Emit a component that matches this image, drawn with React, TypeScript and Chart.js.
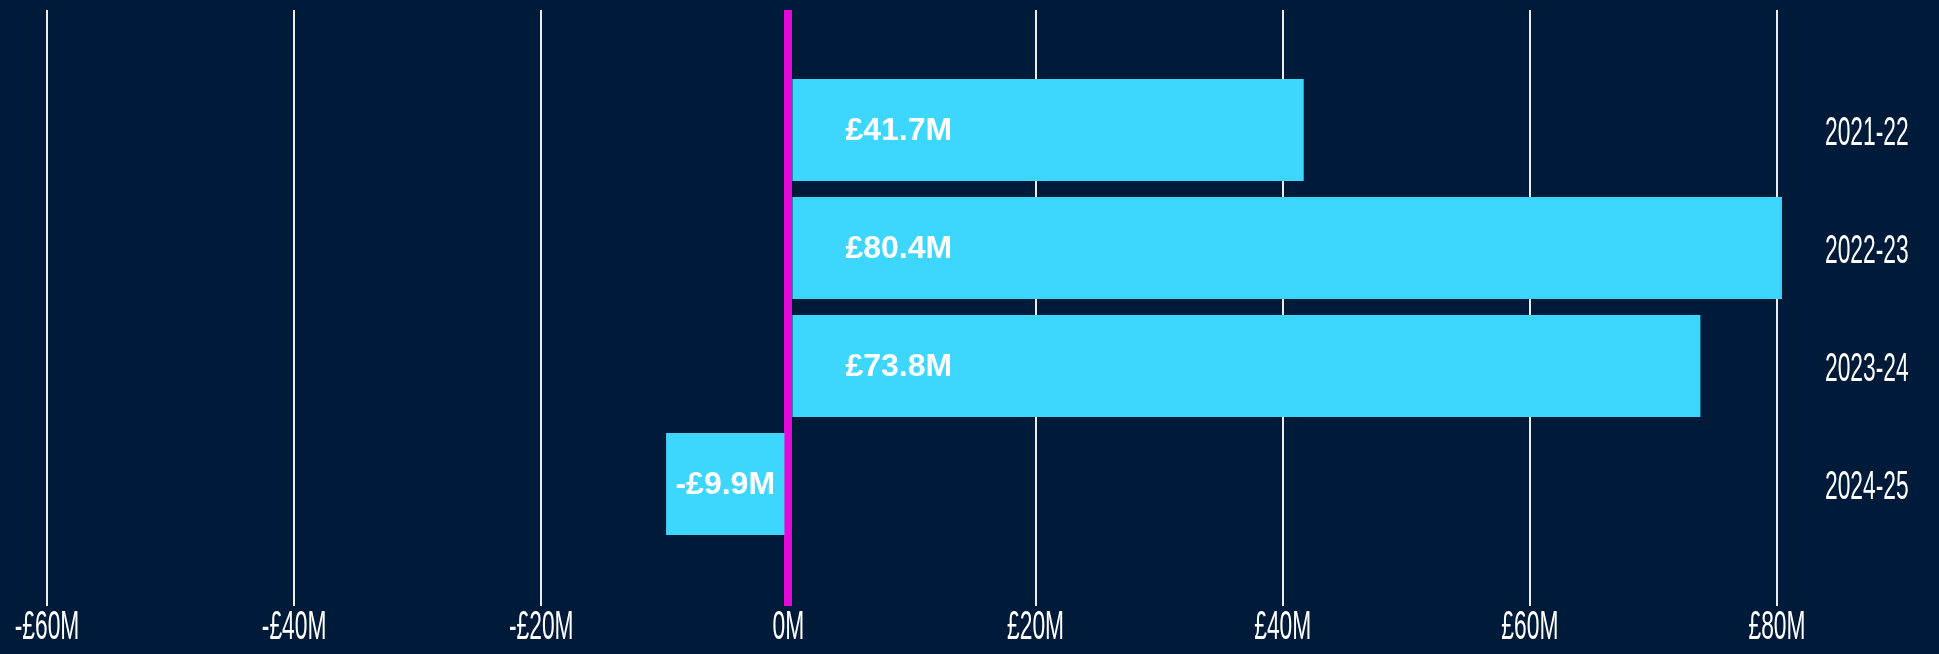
import React, { useEffect, useRef } from "react";
import { Chart, registerables } from "chart.js";

Chart.register(...registerables);

const seasons = ["2021-22", "2022-23", "2023-24", "2024-25"];
const profitLoss = [41.7, 80.4, 73.8, -9.9];
const xMin = -60;
const xMax = 80;
const xStep = 20;

const BG = "#001a3a";
const BAR = "#3dd6ff";
const ZERO = "#e30ad8";
const AXIS_FONT = "40px 'Liberation Sans', Arial, sans-serif";
const SQUEEZE = 0.57;

const fmtAxis = (v: number) => (v === 0 ? "0M" : v < 0 ? `-£${Math.abs(v)}M` : `£${v}M`);
const fmtValue = (v: number) => (v < 0 ? `-£${Math.abs(v).toFixed(1)}M` : `£${v.toFixed(1)}M`);

// Condensed axis labels: real text, positioned from the chart's own scales.
const condensedAxisLabels = {
  id: "condensedAxisLabels",
  afterDraw(chart: any) {
    const ctx = chart.ctx;
    const xs = chart.scales.x;
    const ys = chart.scales.y;
    ctx.save();
    ctx.font = AXIS_FONT;
    ctx.fillStyle = "#ffffff";
    ctx.textBaseline = "alphabetic";
    ctx.textAlign = "center";
    const xBase = chart.chartArea.bottom + 96;
    xs.ticks.forEach((t: any) => {
      const px = xs.getPixelForValue(t.value);
      ctx.save();
      ctx.translate(px, xBase);
      ctx.scale(SQUEEZE, 1);
      ctx.fillText(fmtAxis(t.value), 0, 0);
      ctx.restore();
    });
    ctx.textAlign = "left";
    const labels = chart.data.labels as string[];
    labels.forEach((lab: string, i: number) => {
      const py = ys.getPixelForValue(i);
      ctx.save();
      ctx.translate(chart.chartArea.right + 48, py + 15);
      ctx.scale(SQUEEZE, 1);
      ctx.fillText(lab, 0, 0);
      ctx.restore();
    });
    ctx.restore();
  },
};

const valueLabels = {
  id: "valueLabels",
  afterDatasetsDraw(chart: any) {
    const ctx = chart.ctx;
    const meta = chart.getDatasetMeta(0);
    const data = chart.data.datasets[0].data as number[];
    ctx.save();
    ctx.font = "bold 32px 'Liberation Sans', Arial, sans-serif";
    ctx.fillStyle = "#ffffff";
    ctx.textBaseline = "middle";
    meta.data.forEach((el: any, i: number) => {
      const v = data[i];
      const text = fmtValue(v);
      const w = ctx.measureText(text).width;
      const left = Math.min(el.x, el.base);
      const right = Math.max(el.x, el.base);
      const offset = 53;
      if (v >= 0 && right - left > w + offset + 10) {
        ctx.textAlign = "left";
        ctx.fillText(text, el.base + offset, el.y + 1);
      } else {
        ctx.textAlign = "center";
        ctx.fillText(text, (left + right) / 2, el.y + 1);
      }
    });
    ctx.restore();
  },
};

const gridColor = (c: any) => (c.tick && c.tick.value === 0 ? ZERO : "rgba(255,255,255,0.92)");
const gridWidth = (c: any) => (c.tick && c.tick.value === 0 ? 8 : 2);

export default function App() {
  const ref = useRef<HTMLCanvasElement | null>(null);
  useEffect(() => {
    if (!ref.current) return;
    const chart = new Chart(ref.current, {
      type: "bar",
      data: {
        labels: seasons,
        datasets: [
          {
            data: profitLoss,
            backgroundColor: BAR,
            borderWidth: 0,
            categoryPercentage: 1,
            barPercentage: 0.865,
            clip: false as any,
          },
        ],
      },
      options: {
        indexAxis: "y",
        animation: false,
        responsive: false,
        layout: { padding: { left: 47, right: 0, top: 0, bottom: 0 } },
        plugins: { legend: { display: false }, tooltip: { enabled: false } },
        scales: {
          x: {
            type: "linear",
            position: "bottom",
            min: xMin,
            max: xMax,
            border: { display: false },
            grid: { color: gridColor, lineWidth: gridWidth, drawTicks: true, tickLength: 63, tickColor: gridColor, tickWidth: gridWidth },
            ticks: { stepSize: xStep, display: false },
            afterFit: (s: any) => {
              s.height = 111;
            },
          },
          x2: {
            type: "linear",
            axis: "x",
            position: "top",
            min: xMin,
            max: xMax,
            border: { display: false },
            grid: { drawOnChartArea: false, drawTicks: true, tickLength: 61, tickColor: gridColor, tickWidth: gridWidth, color: gridColor, lineWidth: gridWidth },
            ticks: { stepSize: xStep, display: false },
            afterFit: (s: any) => {
              s.height = 71;
            },
          },
          y: {
            type: "category",
            position: "right",
            border: { display: false },
            grid: { display: false, drawTicks: false },
            ticks: { display: false },
            afterFit: (s: any) => {
              s.width = 162;
            },
          },
        },
      } as any,
      plugins: [valueLabels, condensedAxisLabels],
    });
    return () => chart.destroy();
  }, []);
  return (
    <div style={{ position: "fixed", left: 0, top: 0, width: 1939, height: 654, background: BG }}>
      <canvas ref={ref} width={1939} height={654} style={{ display: "block", width: 1939, height: 654 }} />
    </div>
  );
}
